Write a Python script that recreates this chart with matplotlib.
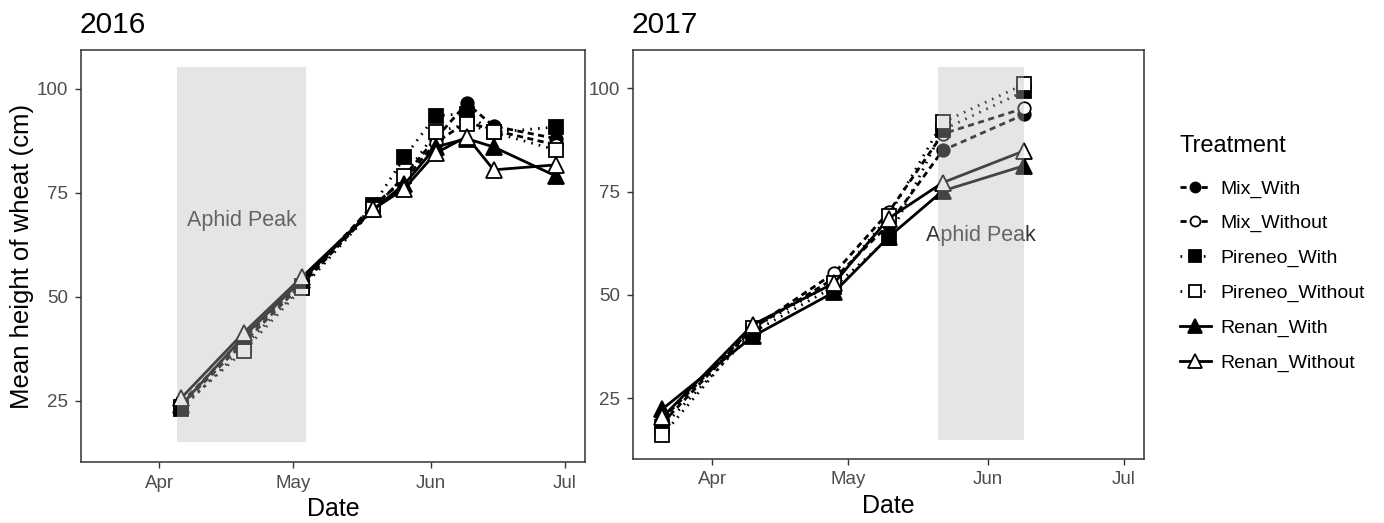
import pandas as pd
import numpy as np
import matplotlib
matplotlib.use("Agg")
import matplotlib.pyplot as plt
import matplotlib.dates as mdates
from matplotlib.lines import Line2D

plt.rcParams['font.family'] = ['Liberation Sans', 'DejaVu Sans']

treatments = ["Mix_With", "Mix_Without", "Pireneo_With", "Pireneo_Without", "Renan_With", "Renan_Without"]

# 2016 season
dates_2016 = pd.to_datetime(['2016-04-06', '2016-04-20', '2016-05-03', '2016-05-19', '2016-05-26',
                             '2016-06-02', '2016-06-09', '2016-06-15', '2016-06-29'])
mix_with_2016 = [24, 39, 53, 71, 79, 88, 96.5, 91, 88]
mix_without_2016 = [24.5, 40, 53.5, 72, 78, 87, 92, 90, 86.5]
pireneo_with_2016 = [23, 38, 52.5, 72, 83.5, 93.5, 94, 89.5, 90.8]
pireneo_without_2016 = [23.5, 37, 52, 71, 79, 89.5, 91.5, 89.5, 85.3]
renan_with_2016 = [24, 40.5, 54, 71, 77, 86, 88, 86, 79]
renan_without_2016 = [25.7, 41.4, 54.7, 71, 76, 84.5, 88.5, 80.5, 81.7]

# 2017 season
dates_2017 = pd.to_datetime(['2017-03-21', '2017-04-10', '2017-04-28', '2017-05-10', '2017-05-22', '2017-06-09'])
mix_with_2017 = [20, 42, 54, 67, 85, 93.7]
mix_without_2017 = [19, 42, 55.3, 70, 89, 95.2]
pireneo_with_2017 = [18, 41, 52, 63.7, 90, 99.3]
pireneo_without_2017 = [16, 42, 53, 69, 91.8, 101]
renan_with_2017 = [22.4, 40, 50.7, 64, 75.2, 81.3]
renan_without_2017 = [20.4, 42.8, 52.9, 68.5, 77.2, 84.9]

# aphid peak windows
peak_2016 = ('2016-04-05', '2016-05-04')
peak_2017 = ('2017-05-21', '2017-06-09')

dotted = (0, (0.6, 2.2))
dashed = (0, (2.2, 1.6))
styles = {
    "Mix_With": dict(ls=dashed, marker='o', mfc='black', ms=9),
    "Mix_Without": dict(ls=dashed, marker='o', mfc='white', ms=9),
    "Pireneo_With": dict(ls=dotted, marker='s', mfc='black', ms=10),
    "Pireneo_Without": dict(ls=dotted, marker='s', mfc='white', ms=10),
    "Renan_With": dict(ls='-', marker='^', mfc='black', ms=12),
    "Renan_Without": dict(ls='-', marker='^', mfc='white', ms=12),
}

data = {
    2016: (dates_2016, [mix_with_2016, mix_without_2016, pireneo_with_2016,
                        pireneo_without_2016, renan_with_2016, renan_without_2016], peak_2016,
           (pd.Timestamp('2016-04-19 12:00'), 68.3)),
    2017: (dates_2017, [mix_with_2017, mix_without_2017, pireneo_with_2017,
                        pireneo_without_2017, renan_with_2017, renan_without_2017], peak_2017,
           (pd.Timestamp('2017-05-30 12:00'), 64.4)),
}

fig = plt.figure(figsize=(13.84, 5.23), dpi=100)
ax1 = fig.add_axes([81 / 1384, 1 - 462 / 523, 504 / 1384, 412 / 523])
ax2 = fig.add_axes([633 / 1384, 1 - 459 / 523, 511 / 1384, 409 / 523])

for ax, year in [(ax1, 2016), (ax2, 2017)]:
    dates, series, peak, txt = data[year]
    for name, vals in zip(treatments, series):
        st = styles[name]
        ax.plot(dates, vals, color='black', lw=2, ls=st['ls'], marker=st['marker'],
                mfc=st['mfc'], mec='black', mew=1.3, ms=st['ms'], zorder=3)
    # shaded window drawn over the lines, like the original
    ax.fill_between(pd.to_datetime(list(peak)), 15, 105.3, color='#bababa', alpha=0.37,
                    lw=0, zorder=5)
    ax.text(txt[0], txt[1], "Aphid Peak", ha='center', va='center', fontsize=15.5,
            color='#333333', zorder=4)
    ax.set_xlim(pd.Timestamp(f'{year}-03-14 12:00'), pd.Timestamp(f'{year}-07-05 12:00'))
    ax.set_ylim(10.3, 109.3)
    ax.set_yticks([25, 50, 75, 100])
    ax.xaxis.set_major_locator(mdates.MonthLocator(bymonth=[4, 5, 6, 7]))
    ax.xaxis.set_major_formatter(mdates.DateFormatter('%b'))
    ax.tick_params(axis='both', labelsize=13.5, labelcolor='#4d4d4d', color='#333333',
                   length=4, width=1, direction='out', pad=5)
    for sp in ax.spines.values():
        sp.set_linewidth(1.1)
        sp.set_color('#333333')
    ax.set_xlabel("Date", fontsize=18, labelpad=4)
    ax.set_title(str(year), loc='left', fontsize=21.5, pad=12, x=-0.002)

ax1.set_ylabel("Mean height of wheat (cm)", fontsize=18.5, labelpad=2)

handles = []
for name in treatments:
    st = styles[name]
    handles.append(Line2D([], [], color='black', lw=2, ls=st['ls'], marker=st['marker'],
                          mfc=st['mfc'], mec='black', mew=1.3, ms=st['ms'] * 0.8))
leg = fig.legend(handles, treatments, title="Treatment", loc='upper left',
                 bbox_to_anchor=(1162 / 1384, 1 - 118 / 523), frameon=False,
                 fontsize=14, title_fontsize=17, handlelength=1.6, labelspacing=0.88,
                 handletextpad=0.5)
leg._legend_box.align = "left"
leg._legend_box.sep = 16

fig.savefig("out.png", dpi=100)
